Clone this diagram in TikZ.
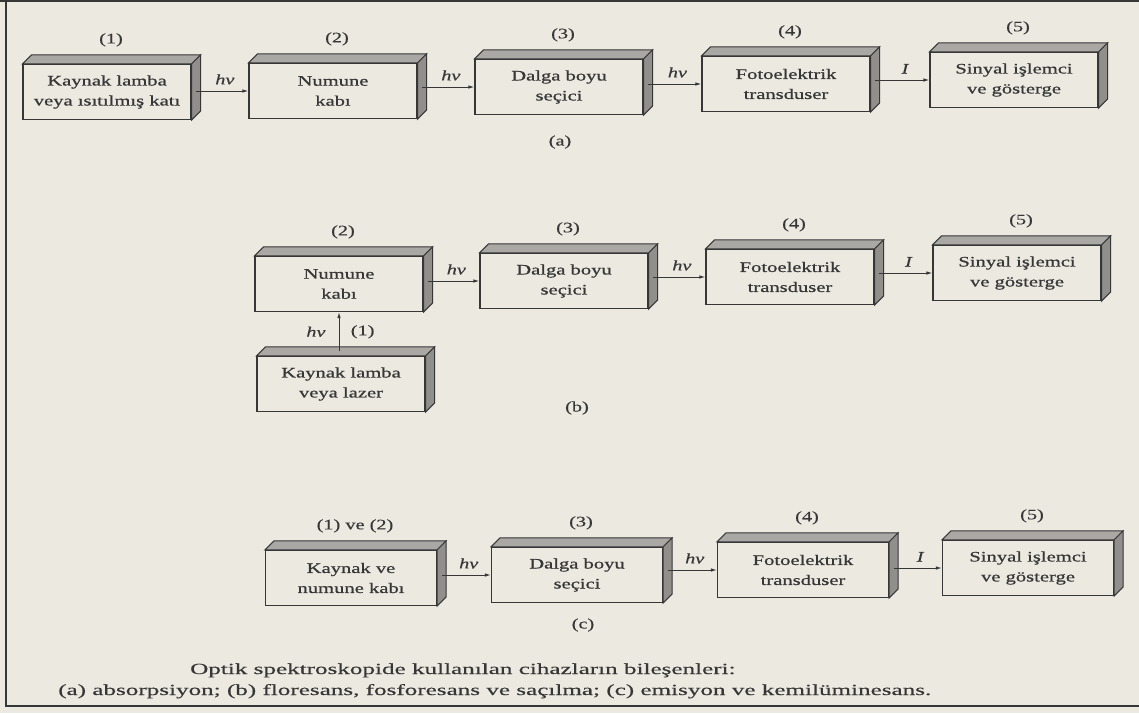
\documentclass[tikz,border=0pt]{standalone}
\usepackage{fontspec}
\setmainfont{Liberation Serif}
\newfontfamily\boxfont[FakeStretch=1.42,FakeBold=0.8]{Liberation Serif}
\newfontfamily\numfont[FakeStretch=1.4,FakeBold=0.4]{Liberation Serif}
\newfontfamily\captfont[FakeStretch=1.62,FakeBold=0.4]{Liberation Serif}
\usetikzlibrary{positioning,arrows.meta}
\definecolor{paper}{RGB}{236,233,225}
\definecolor{ink}{RGB}{55,55,55}
\definecolor{topgray}{RGB}{170,168,165}
\definecolor{sidegray}{RGB}{145,143,140}

\begin{document}
\begin{tikzpicture}[
  x=1pt, y=-1pt,
  unit/.style={draw=ink, line width=1.1pt, minimum width=168pt, minimum height=55pt,
    inner sep=0pt, align=center, text=ink, font=\boxfont\fontsize{14.5}{20}\selectfont},
  num/.style={text=ink, font=\numfont\fontsize{14.5}{16}\selectfont},
  lbl/.style={text=ink, inner sep=2pt, font=\numfont\fontsize{14.5}{16}\selectfont\itshape},
  capt/.style={text=ink, inner sep=0pt, font=\captfont\fontsize{15.5}{22}\selectfont},
  flow/.style={draw=ink, line width=1pt, -{Latex[length=6pt,width=3.5pt]}},
  top face/.style={fill=topgray, draw=ink, line width=1pt},
  side face/.style={fill=sidegray, draw=ink, line width=1pt}
]
  % paper and frame
  \fill[paper] (0,0) rectangle (1139,713);
  \useasboundingbox (0,0) rectangle (1139,713);
  \draw[ink, line width=1.5pt] (0,1) -- (1139,1);
  \draw[ink, line width=1.5pt] (6,0) -- (6,706) -- (1139,706);

  % (a) absorption
  \node[unit] (a1) at (107,92) {Kaynak lamba\\veya ısıtılmış katı};
  \node[unit] (a2) at (333,91) {Numune\\kabı};
  \node[unit] (a3) at (559,87) {Dalga boyu\\seçici};
  \node[unit] (a4) at (786,84) {Fotoelektrik\\transduser};
  \node[unit] (a5) at (1014,80) {Sinyal işlemci\\ve gösterge};

  % (b) fluorescence
  \node[unit] (b2) at (339,284) {Numune\\kabı};
  \node[unit] (b3) at (564,281) {Dalga boyu\\seçici};
  \node[unit] (b4) at (790,277) {Fotoelektrik\\transduser};
  \node[unit] (b5) at (1017,273) {Sinyal işlemci\\ve gösterge};
  \node[unit] (b1) at (341,384) {Kaynak lamba\\veya lazer};

  % (c) emission
  \node[unit, minimum width=171pt] (c1) at (351,578) {Kaynak ve\\numune kabı};
  \node[unit, minimum width=171pt] (c2) at (577,575) {Dalga boyu\\seçici};
  \node[unit, minimum width=171pt] (c3) at (803,570) {Fotoelektrik\\transduser};
  \node[unit, minimum width=171pt] (c4) at (1028,568) {Sinyal işlemci\\ve gösterge};

  % shaded top and side faces
  \foreach \n in {a1,a2,a3,a4,a5,b1,b2,b3,b4,b5,c1,c2,c3,c4} {
    \draw[top face] (\n.north west) -- ([shift={(9pt,9pt)}]\n.north west)
      -- ([shift={(9pt,9pt)}]\n.north east) -- (\n.north east) -- cycle;
    \draw[side face] (\n.north east) -- ([shift={(9pt,9pt)}]\n.north east)
      -- ([shift={(9pt,9pt)}]\n.south east) -- (\n.south east) -- cycle;
  }

  % stage numbers
  \node[num, above=14pt of a1, xshift=4pt] (na1) {(1)};
  \node[num, above=14pt of a2, xshift=4pt] (na2) {(2)};
  \node[num, above=14pt of a3, xshift=4pt] (na3) {(3)};
  \node[num, above=14pt of a4, xshift=4pt] (na4) {(4)};
  \node[num, above=14pt of a5, xshift=4pt] (na5) {(5)};
  \node[num, above=14pt of b2, xshift=4pt] (nb2) {(2)};
  \node[num, above=14pt of b3, xshift=4pt] (nb3) {(3)};
  \node[num, above=14pt of b4, xshift=4pt] (nb4) {(4)};
  \node[num, above=14pt of b5, xshift=4pt] (nb5) {(5)};
  \node[num, above=14pt of c1, xshift=4pt] (nc1) {(1) ve (2)};
  \node[num, above=14pt of c2, xshift=4pt] (nc2) {(3)};
  \node[num, above=14pt of c3, xshift=4pt] (nc3) {(4)};
  \node[num, above=14pt of c4, xshift=4pt] (nc4) {(5)};

  % connectors
  \draw[flow] ([xshift=4.5pt]a1.east |- a2.west) -- node[lbl, above=4pt, pos=0.55] {hν} (a2.west);
  \draw[flow] ([xshift=4.5pt]a2.east |- a3.west) -- node[lbl, above=4pt, pos=0.55] {hν} (a3.west);
  \draw[flow] ([xshift=4.5pt]a3.east |- a4.west) -- node[lbl, above=4pt, pos=0.55] {hν} (a4.west);
  \draw[flow] ([xshift=4.5pt]a4.east |- a5.west) -- node[lbl, above=4pt, pos=0.55] {I} (a5.west);

  \draw[flow] ([yshift=4.5pt]b1.north -| b2.south) -- node[lbl, left=11pt] {hν}
    node[num, right=8pt] {(1)} (b2.south);
  \draw[flow] ([xshift=4.5pt]b2.east |- b3.west) -- node[lbl, above=4pt, pos=0.55] {hν} (b3.west);
  \draw[flow] ([xshift=4.5pt]b3.east |- b4.west) -- node[lbl, above=4pt, pos=0.55] {hν} (b4.west);
  \draw[flow] ([xshift=4.5pt]b4.east |- b5.west) -- node[lbl, above=4pt, pos=0.55] {I} (b5.west);

  \draw[flow] ([xshift=4.5pt]c1.east |- c2.west) -- node[lbl, above=4pt, pos=0.55] {hν} (c2.west);
  \draw[flow] ([xshift=4.5pt]c2.east |- c3.west) -- node[lbl, above=4pt, pos=0.55] {hν} (c3.west);
  \draw[flow] ([xshift=4.5pt]c3.east |- c4.west) -- node[lbl, above=4pt, pos=0.55] {I} (c4.west);

  % part letters and caption
  \node[num] (pa) at (560,142) {(a)};
  \node[num] (pb) at (577,408) {(b)};
  \node[num] (pc) at (583,625) {(c)};
  \node[capt, anchor=base west] (cap1) at (190,674)
    {Optik spektroskopide kullanılan cihazların bileşenleri:};
  \node[capt, anchor=base west] (cap2) at (58,695)
    {(a) absorpsiyon; (b) floresans, fosforesans ve saçılma; (c) emisyon ve kemilüminesans.};
\end{tikzpicture}
\end{document}
